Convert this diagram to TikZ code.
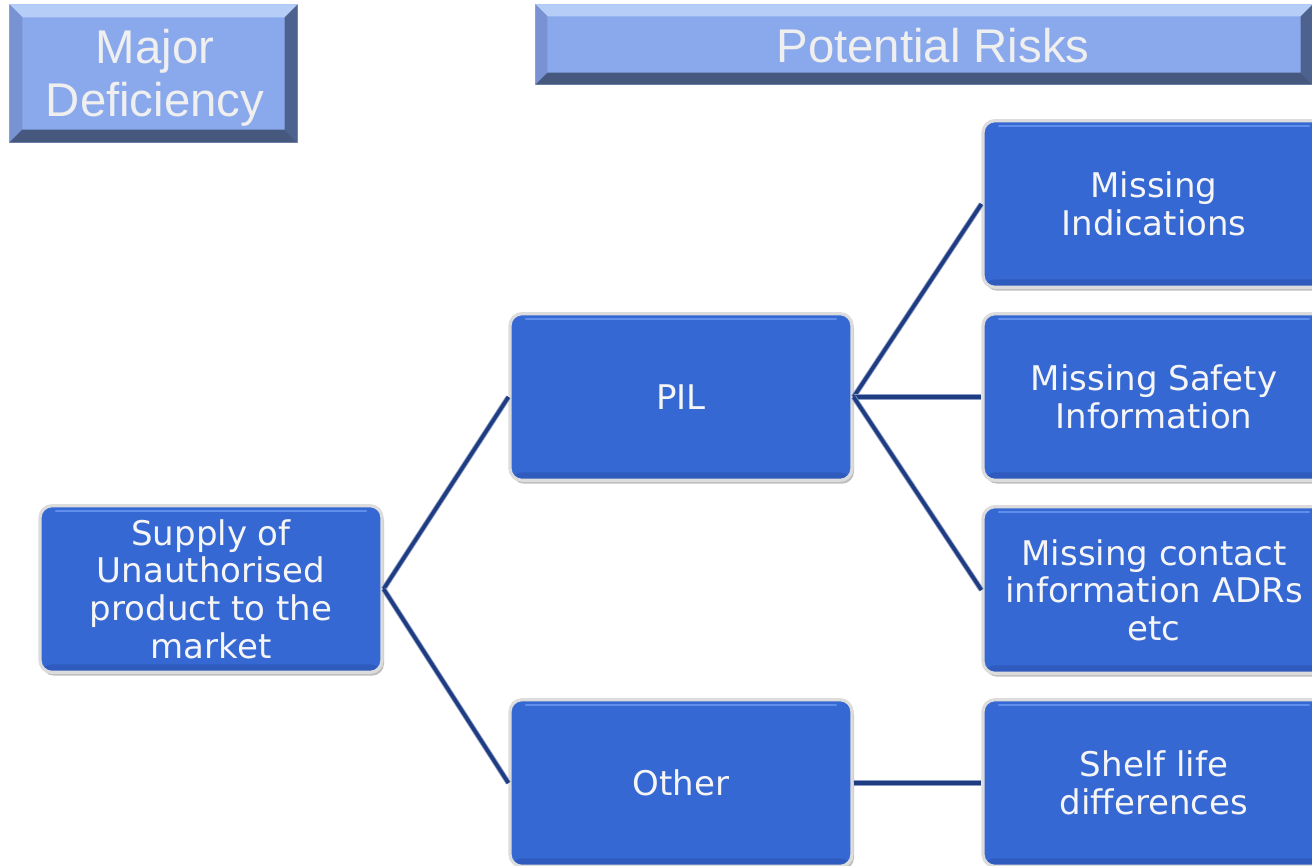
\documentclass[tikz,border=0pt]{standalone}
\usepackage{fontspec}
\setmainfont{Liberation Sans}
\newfontfamily\boxfont{DejaVu Sans}
\usetikzlibrary{calc,shadows}
\definecolor{hdrfill}{HTML}{8AA9EC}
\definecolor{bevtop}{HTML}{B6CDF8}
\definecolor{bevleft}{HTML}{7892D2}
\definecolor{bevright}{HTML}{4E6290}
\definecolor{bevbot}{HTML}{47587F}
\definecolor{hdrtext}{HTML}{EFEFEF}
\definecolor{boxfill}{HTML}{3668D4}
\definecolor{boxhi}{HTML}{5F8EEC}
\definecolor{boxlo}{HTML}{2F5BBE}
\definecolor{boxrim}{HTML}{DCDCDC}
\definecolor{linkcol}{HTML}{1E3C82}
\definecolor{linkedge}{HTML}{8C9CC4}
\tikzset{
  hdrbox/.style={fill=hdrfill, draw=bevtop!70!hdrfill, line width=0.8pt, inner sep=0pt,
    text=hdrtext, font=\fontsize{35}{39.5}\selectfont, align=center},
  hdrtxt/.style={text=hdrtext, font=\fontsize{35.5}{40}\selectfont, align=center},
  bluebox/.style={fill=boxfill, draw=boxrim, line width=2.4pt, rounded corners=9pt,
    minimum width=256.5pt, minimum height=125pt, inner sep=0pt,
    text=white!96!black, font=\boxfont\fontsize{25.5}{28.2}\selectfont, align=center,
    drop shadow={shadow xshift=1.5pt, shadow yshift=-2.5pt, fill=black, opacity=0.25},
    path picture={
      \draw[boxhi, line width=1.8pt, line cap=round] ([xshift=12pt,yshift=-4pt]path picture bounding box.north west) -- ([xshift=-12pt,yshift=-4pt]path picture bounding box.north east);
      \fill[boxlo] ([yshift=6pt]path picture bounding box.south west) rectangle (path picture bounding box.south east);
    }},
  link/.style={draw=linkcol, line width=2.7pt, preaction={draw=linkedge, line width=4pt}}
}
\begin{document}
\begin{tikzpicture}[x=0.75pt,y=-0.75pt]
\useasboundingbox (0,0) rectangle (1312,866);
\clip (0,0) rectangle (1312,866);
\fill[white] (0,0) rectangle (1312,866);

% header boxes
\node[hdrbox, minimum width=215.25pt, minimum height=102.75pt] (hA) at (153.5,73.5) {};
\node[hdrbox, minimum width=582pt, minimum height=59.25pt] (hB) at (924,44.5) {};
\foreach \h/\b in {hA/13, hB/12}{
  \fill[bevtop] (\h.north west) -- (\h.north east) -- ($(\h.north east)+(-\b,\b)$) -- ($(\h.north west)+(\b,\b)$) -- cycle;
  \fill[bevleft] (\h.north west) -- ($(\h.north west)+(\b,\b)$) -- ($(\h.south west)+(\b,-\b)$) -- (\h.south west) -- cycle;
  \fill[bevright] (\h.north east) -- (\h.south east) -- ($(\h.south east)+(-\b,-\b)$) -- ($(\h.north east)+(-\b,\b)$) -- cycle;
  \fill[bevbot] (\h.south west) -- ($(\h.south west)+(\b,-\b)$) -- ($(\h.south east)+(-\b,-\b)$) -- (\h.south east) -- cycle;
}
\node[hdrtxt] (tA) at (155,78) {Major\\Deficiency};
\node[hdrtxt] (tB) at (933,46) {Potential Risks};

% blue boxes
\node[bluebox] (sup) at (211,589) {Supply of\\Unauthorised\\product to the\\market};
\node[bluebox] (pil) at (681,397) {PIL};
\node[bluebox] (oth) at (681,783) {Other};
\node[bluebox] (mi) at (1154,204) {Missing\\Indications};
\node[bluebox] (ms) at (1154,397) {Missing Safety\\Information};
\node[bluebox] (mc) at (1154,590) {Missing contact\\information ADRs\\etc};
\node[bluebox] (sl) at (1154,783) {Shelf life\\differences};

% connectors
\draw[link] (sup.east) -- (pil.west);
\draw[link] (sup.east) -- (oth.west);
\draw[link] (pil.east) -- (mi.west);
\draw[link] (pil.east) -- (ms.west);
\draw[link] (pil.east) -- (mc.west);
\draw[link] (oth.east) -- (sl.west);
\end{tikzpicture}
\end{document}
